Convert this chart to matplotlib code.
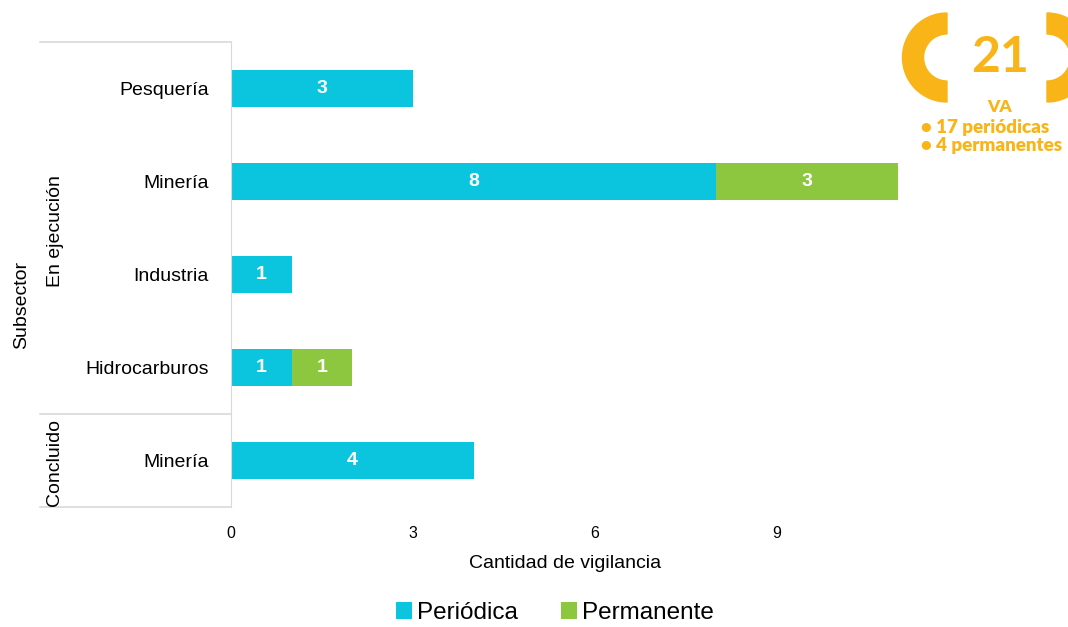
import numpy as np
import matplotlib
matplotlib.use("Agg")
import matplotlib.pyplot as plt
from matplotlib.patches import Wedge
from matplotlib.lines import Line2D

plt.rcParams["font.family"] = ["Liberation Sans", "DejaVu Sans"]

# data
subsectors = ["Pesquería", "Minería", "Industria", "Hidrocarburos", "Minería"]
groups = ["En ejecución", "En ejecución", "En ejecución", "En ejecución", "Concluido"]
periodica = [3, 8, 1, 1, 4]
permanente = [0, 3, 0, 1, 0]
series_names = ["Periódica", "Permanente"]
xticks = [0, 3, 6, 9]

C_PER = "#0BC5DF"
C_PERM = "#8DC63F"
C_YEL = "#F9B418"
C_GRID = "#D9D9D9"

fig = plt.figure(figsize=(10.68, 6.27), dpi=100)
ax = fig.add_axes([231 / 1068, 1 - 507 / 627, 728 / 1068, 465 / 627])

y = np.arange(len(subsectors))[::-1]
b1 = ax.barh(y, periodica, height=0.4, color=C_PER, label=series_names[0])
b2 = ax.barh(y, permanente, left=periodica, height=0.4, color=C_PERM, label=series_names[1])

for vals, lefts in [(periodica, [0] * 5), (permanente, periodica)]:
    for yy, v, l in zip(y, vals, lefts):
        if v > 0:
            ax.text(l + v / 2, yy, str(v), ha="center", va="center",
                    color="white", fontsize=14, fontweight="bold")

ax.set_xlim(0, 12)
ax.set_ylim(-0.5, len(subsectors) - 0.5)
ax.set_xticks(xticks)
ax.tick_params(axis="x", length=0, labelsize=11.5, pad=14)
ax.set_yticks(y)
ax.set_yticklabels(subsectors, fontsize=14)
ax.tick_params(axis="y", length=0, pad=16)
for s in ["top", "right", "bottom"]:
    ax.spines[s].set_visible(False)
ax.spines["left"].set_color(C_GRID)
ax.set_xlabel("Cantidad de vigilancia", fontsize=14, va="center")
ax.xaxis.set_label_coords((565 - 231) / 728, -(563 - 507) / 465)

# group separators
xl = (40 - 231) / 728
for yy in [1.0, 1 / 5, 0.0]:
    ax.add_line(Line2D([xl, 0], [yy, yy], transform=ax.transAxes, color=C_GRID,
                       lw=1.2, clip_on=False))
ax.text((55 - 231) / 728, 1 - (231 - 42) / 465, "En ejecución", transform=ax.transAxes,
        rotation=90, ha="center", va="center", fontsize=14)
ax.text((55 - 231) / 728, 1 - (463 - 42) / 465, "Concluido", transform=ax.transAxes,
        rotation=90, ha="center", va="center", fontsize=14)
ax.text((22 - 231) / 728, 1 - (305 - 42) / 465, "Subsector", transform=ax.transAxes,
        rotation=90, ha="center", va="center", fontsize=14)

# legend
fig.legend(handles=[b1, b2], labels=series_names, loc="center",
           bbox_to_anchor=(555 / 1068, 1 - 613 / 627), ncol=2, frameon=False,
           fontsize=17.5, handlelength=0.65, handleheight=0.65, handletextpad=0.2,
           columnspacing=1.8)

# badge top right
bx = fig.add_axes([0, 0, 1, 1], facecolor="none")
bx.set_xlim(0, 1068)
bx.set_ylim(627, 0)
bx.axis("off")
bx.add_patch(Wedge((947, 57.5), 44.5, 90, 270, width=21, color=C_YEL))
bx.add_patch(Wedge((1047, 57.5), 44.5, 270, 90, width=21, color=C_YEL))
badge_font = ["Lato", "DejaVu Sans"]
bx.text(1000, 57, "21", ha="center", va="center", color=C_YEL, fontsize=36,
        fontweight="bold", family=badge_font)
bx.text(1000, 107, "VA", ha="center", va="center", color=C_YEL, fontsize=12.5,
        fontweight="heavy", family=badge_font)
bx.text(921, 128, "• 17 periódicas", ha="left", va="center", color=C_YEL,
        fontsize=13.5, fontweight="heavy", family=badge_font)
bx.text(921, 146, "• 4 permanentes", ha="left", va="center", color=C_YEL,
        fontsize=13.5, fontweight="heavy", family=badge_font)

fig.savefig("out.png", dpi=100)
